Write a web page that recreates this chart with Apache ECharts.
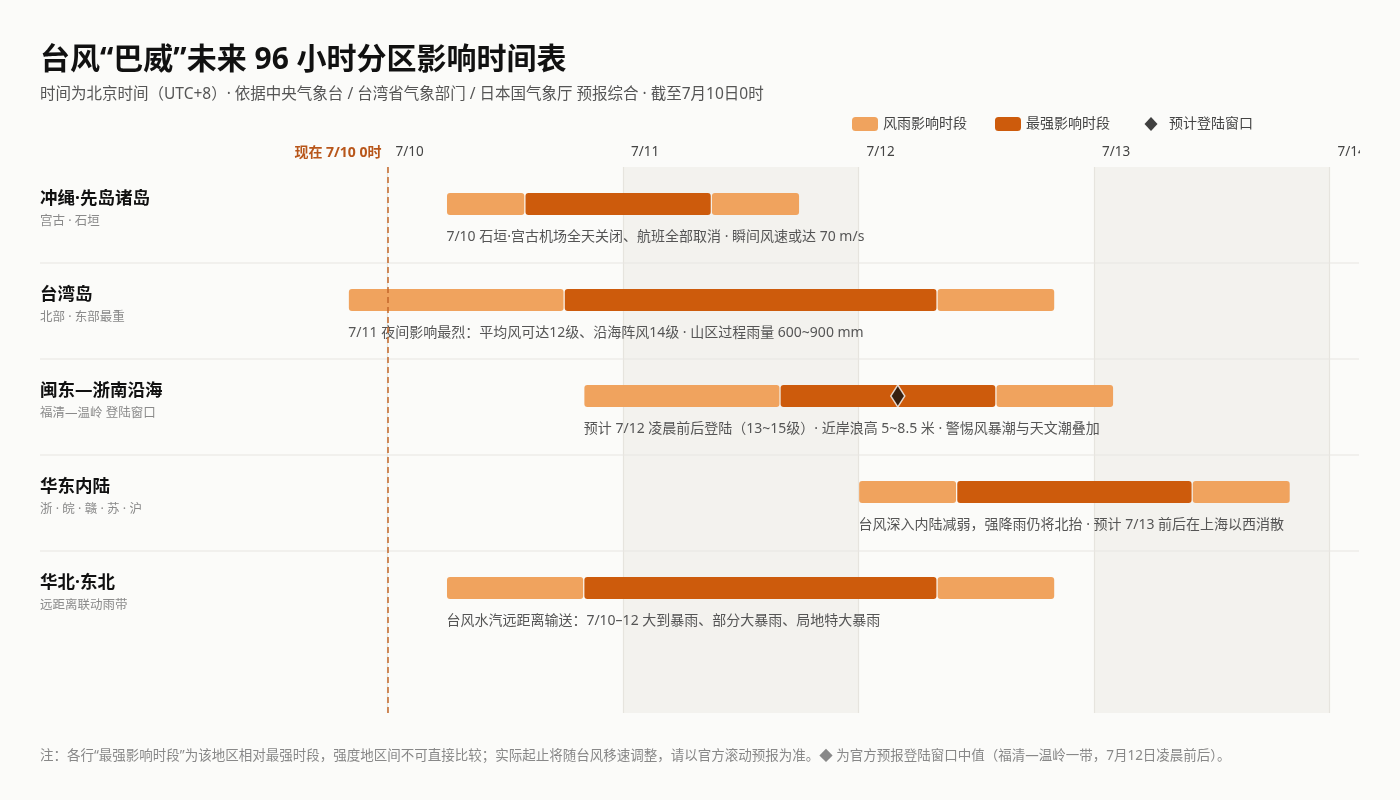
<!DOCTYPE html>
<html>
<head>
<meta charset="utf-8">
<title>台风“巴威”未来 96 小时分区影响时间表</title>
<script src="https://cdn.jsdelivr.net/npm/echarts@6/dist/echarts.min.js"></script>
<style>
  html, body { margin: 0; padding: 0; background: #fbfbf9; }
  #chart { width: 1400px; height: 800px; }
</style>
</head>
<body>
<div id="chart"></div>
<script>
// 分区（每行一个地区）
var regions = ["冲绳·先岛诸岛", "台湾岛", "闽东—浙南沿海", "华东内陆", "华北·东北"];
var regionNotes = ["宫古 · 石垣", "北部 · 东部最重", "福清—温岭 登陆窗口", "浙 · 皖 · 赣 · 苏 · 沪", "远距离联动雨带"];
// 时间：以 7/10 0时 起算的小时数
var windStart = [6, -4, 20, 48, 6];
var peakStart = [14, 18, 40, 58, 20];
var peakEnd = [33, 56, 62, 82, 56];
var windEnd = [42, 68, 74, 92, 68];
var rowNotes = [
  "7/10 石垣·宫古机场全天关闭、航班全部取消 · 瞬间风速或达 70 m/s",
  "7/11 夜间影响最烈：平均风可达12级、沿海阵风14级 · 山区过程雨量 600~900 mm",
  "预计 7/12 凌晨前后登陆（13~15级）· 近岸浪高 5~8.5 米 · 警惕风暴潮与天文潮叠加",
  "台风深入内陆减弱，强降雨仍将北抬 · 预计 7/13 前后在上海以西消散",
  "台风水汽远距离输送：7/10–12 大到暴雨、部分大暴雨、局地特大暴雨"
];
var dayLabels = ["7/10", "7/11", "7/12", "7/13", "7/14"];
var shadedDays = [[24, 48], [72, 96]];
var landfallRow = 2;
var landfallHour = 52;
var nowHour = 0;
var nowLabel = "现在 7/10 0时";

var FONT = "'Noto Sans', 'Noto Sans CJK SC', sans-serif";
var LIGHT = "#f0a35e";
var DARK = "#cd5b0c";
// 图例里的菱形：用空的 M 点撑开包围盒，避免被拉宽
var LEGEND_DIAMOND = "path://M0,0 M26,14 M13,0 L19.5,7 L13,14 L6.5,7 Z";

function seg(a, b, y, color) {
  return {
    type: "rect",
    shape: { x: a + 0.6, y: y, width: b - a - 1.2, height: 22, r: 3 },
    style: { fill: color }
  };
}

// 风雨影响时段 + 行标题/说明/分隔线
function renderWind(params, api) {
  var row = api.value(0);
  var top = api.coord([0, row])[1];
  var next = api.coord([0, row + 1])[1];
  var a = api.coord([api.value(1), row])[0];
  var b = api.coord([api.value(2), row])[0];
  var c = api.coord([api.value(3), row])[0];
  var d = api.coord([api.value(4), row])[0];
  var cs = params.coordSys;
  var children = [
    seg(a, b, top + 26, LIGHT),
    seg(c, d, top + 26, LIGHT),
    {
      type: "text", x: a, y: top + 70,
      style: { text: rowNotes[row], fill: "#555", fontSize: 14, fontFamily: FONT, align: "left", verticalAlign: "middle" }
    },
    {
      type: "text", x: 40, y: top + 32,
      style: { text: regions[row], fill: "#111", fontSize: 17.5, fontWeight: "bold", fontFamily: FONT, align: "left", verticalAlign: "middle" }
    },
    {
      type: "text", x: 40, y: top + 54,
      style: { text: regionNotes[row], fill: "#8a8a8a", fontSize: 12.5, fontFamily: FONT, align: "left", verticalAlign: "middle" }
    }
  ];
  if (row < regions.length - 1) {
    children.push({
      type: "line",
      shape: { x1: 40, y1: next, x2: cs.x + cs.width, y2: next },
      style: { stroke: "#e8e6e1", lineWidth: 1.2 }
    });
  }
  return { type: "group", children: children };
}

// 最强影响时段
function renderPeak(params, api) {
  var row = api.value(0);
  var top = api.coord([0, row])[1];
  var b = api.coord([api.value(2), row])[0];
  var c = api.coord([api.value(3), row])[0];
  return seg(b, c, top + 26, DARK);
}

var rows = regions.map(function (r, i) {
  return [i, windStart[i], peakStart[i], peakEnd[i], windEnd[i]];
});

var chart = echarts.init(document.getElementById("chart"));
chart.setOption({
  backgroundColor: "#fbfbf9",
  textStyle: { fontFamily: FONT },
  title: {
    left: 40,
    top: 39,
    padding: 0,
    itemGap: 4,
    text: "台风“巴威”未来 96 小时分区影响时间表",
    textStyle: { fontSize: 30, fontWeight: "bold", color: "#111", fontFamily: FONT, lineHeight: 42 },
    subtext: "时间为北京时间（UTC+8）· 依据中央气象台 / 台湾省气象部门 / 日本国气象厅 预报综合 · 截至7月10日0时",
    subtextStyle: { fontSize: 15.5, color: "#555", fontFamily: FONT, lineHeight: 20 }
  },
  legend: {
    left: 852,
    top: 117,
    padding: 0,
    itemWidth: 26,
    itemHeight: 14,
    itemGap: 28,
    textStyle: { fontSize: 14, color: "#444", fontFamily: FONT },
    data: [
      { name: "风雨影响时段", icon: "roundRect", itemStyle: { color: LIGHT } },
      { name: "最强影响时段", icon: "roundRect", itemStyle: { color: DARK } },
      { name: "预计登陆窗口", icon: LEGEND_DIAMOND, itemStyle: { color: "#111", borderWidth: 0 } }
    ]
  },
  grid: { left: 152, right: 41, top: 167, bottom: 87 },
  xAxis: {
    type: "value",
    position: "top",
    min: -24,
    max: 99,
    interval: 24,
    z: 2,
    axisLine: { show: false },
    axisTick: { show: false },
    axisLabel: {
      margin: 8,
      align: "left",
      padding: [0, 0, 0, 8],
      fontSize: 13.5,
      color: "#444",
      fontFamily: FONT,
      formatter: function (v) {
        var d = v / 24;
        if (v >= 0 && v % 24 === 0 && d < dayLabels.length) return dayLabels[d];
        return "";
      }
    },
    splitLine: {
      show: true,
      showMinLine: false,
      showMaxLine: false,
      lineStyle: { color: "#e6e4de", width: 1.2 }
    }
  },
  yAxis: {
    type: "value",
    inverse: true,
    min: 0,
    max: 5.6875,
    show: false,
    splitLine: { show: false }
  },
  series: [
    {
      name: "风雨影响时段",
      type: "custom",
      z: 3,
      clip: false,
      silent: true,
      itemStyle: { color: LIGHT },
      renderItem: renderWind,
      encode: { x: [1, 2, 3, 4], y: 0 },
      data: rows
    },
    {
      name: "最强影响时段",
      type: "custom",
      z: 3,
      clip: false,
      silent: true,
      itemStyle: { color: DARK },
      renderItem: renderPeak,
      encode: { x: [1, 2, 3, 4], y: 0 },
      data: rows
    },
    {
      name: "预计登陆窗口",
      type: "scatter",
      z: 6,
      silent: true,
      symbol: "diamond",
      symbolSize: [14, 22],
      symbolOffset: [0, 37],
      itemStyle: { color: "#111", borderColor: "#fff", borderWidth: 1.5 },
      data: [[landfallHour, landfallRow]],
      markArea: {
        silent: true,
        itemStyle: { color: "#f3f2ee" },
        data: shadedDays.map(function (s) {
          return [{ xAxis: s[0] }, { xAxis: s[1] }];
        })
      },
      markLine: {
        silent: true,
        symbol: ["none", "none"],
        lineStyle: { color: "#c4672a", type: [6, 4], width: 1.5 },
        label: {
          show: true,
          position: "start",
          distance: 7,
          align: "right",
          padding: [0, 6, 0, 0],
          formatter: nowLabel,
          color: "#b8561a",
          fontWeight: "bold",
          fontSize: 14,
          fontFamily: FONT
        },
        data: [{ xAxis: nowHour }]
      }
    }
  ],
  graphic: [
    {
      type: "rect",
      z: 100,
      shape: { x: 1360, y: 138, width: 40, height: 28 },
      style: { fill: "#fbfbf9" }
    },
    {
      type: "text",
      left: 40,
      top: 749,
      style: {
        text: "注：各行“最强影响时段”为该地区相对最强时段，强度地区间不可直接比较；实际起止将随台风移速调整，请以官方滚动预报为准。◆ 为官方预报登陆窗口中值（福清—温岭一带，7月12日凌晨前后）。",
        fill: "#888",
        fontSize: 13.5,
        fontFamily: FONT
      }
    }
  ]
});
</script>
</body>
</html>
